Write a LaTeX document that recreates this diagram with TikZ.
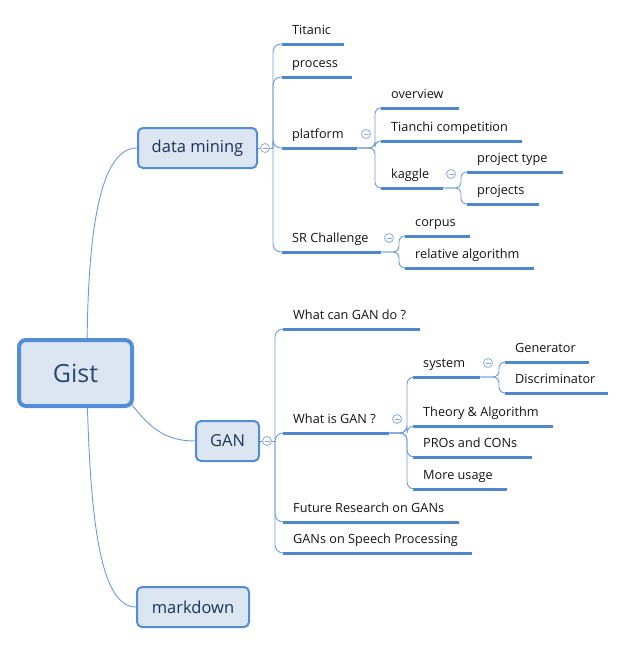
\documentclass[tikz,border=0pt]{standalone}
\usepackage{fontspec}
\setmainfont{Open Sans}
\usetikzlibrary{backgrounds}
\definecolor{boxborder}{RGB}{84,141,212}
\definecolor{boxfill}{RGB}{220,230,242}
\definecolor{uline}{RGB}{79,134,204}
\definecolor{connc}{RGB}{110,155,215}
\definecolor{circc}{RGB}{140,170,220}
\definecolor{roottext}{RGB}{44,70,115}
\definecolor{headtext}{RGB}{30,50,88}
\definecolor{leaftext}{RGB}{20,20,20}
\newcommand\mmleaf[5]{\node[leafnode] (#1) at (#2,#3) {\makebox[\dimexpr#4pt-#2pt-20pt\relax][l]{#5}};}
\begin{document}
\begin{tikzpicture}[x=1pt,y=-1pt,
  rootnode/.style={draw=boxborder,fill=boxfill,line width=4pt,rounded corners=7pt,
    minimum width=113pt,minimum height=66pt,inner sep=0pt,text=roottext,
    font=\fontsize{25}{30}\selectfont},
  headnode/.style={draw=boxborder,fill=boxfill,line width=2pt,rounded corners=5pt,
    minimum height=40pt,inner sep=0pt,text=headtext,
    font=\fontsize{16.5}{20}\selectfont},
  leafnode/.style={anchor=south west,inner xsep=10pt,inner ysep=0pt,
    text height=11pt,text depth=9pt,text=leaftext,
    font=\fontsize{12.7}{15}\selectfont},
  ulinestyle/.style={draw=uline,line width=3pt},
  conn/.style={draw=connc,line width=0.9pt},
  collapse/.style={circle,draw=circc,fill=white,line width=0.8pt,minimum size=9pt,inner sep=0pt,
    path picture={\draw[circc,line width=0.8pt]
      ([xshift=2pt]path picture bounding box.west) -- ([xshift=-2pt]path picture bounding box.east);}}
]
\useasboundingbox (0,0) rectangle (626,645);

% main nodes
\node[rootnode] (gist) at (75.5,373) {Gist};
\node[headnode,minimum width=119pt] (dm) at (197.5,148) {data mining};
\node[headnode,minimum width=63pt] (gan) at (227.5,441) {GAN};
\node[headnode,minimum width=112pt] (md) at (193,607) {markdown};

% leaves
\mmleaf{titanic}{282}{44}{344}{Titanic}
\mmleaf{process}{282}{77}{352}{process}
\mmleaf{platform}{282}{148}{357}{platform}
\mmleaf{sr}{282}{252}{381}{SR Challenge}
\mmleaf{overview}{381}{108}{459}{overview}
\mmleaf{tianchi}{381}{141}{522}{Tianchi competition}
\mmleaf{kaggle}{381}{188}{443}{kaggle}
\mmleaf{ptype}{467}{172}{563}{project type}
\mmleaf{projects}{467}{204}{539}{projects}
\mmleaf{corpus}{405}{236}{470}{corpus}
\mmleaf{relalg}{405}{268}{534}{relative algorithm}
\mmleaf{whatcan}{283}{329}{420}{What can GAN do ?}
\mmleaf{whatis}{283}{433}{389}{What is GAN ?}
\mmleaf{future}{283}{522}{459}{Future Research on GANs}
\mmleaf{speech}{283}{553}{472}{GANs on Speech Processing}
\mmleaf{system}{413}{377}{480}{system}
\mmleaf{theory}{413}{426}{553}{Theory \& Algorithm}
\mmleaf{pros}{413}{457}{532}{PROs and CONs}
\mmleaf{more}{413}{489}{507}{More usage}
\mmleaf{gen}{505}{362}{589}{Generator}
\mmleaf{disc}{505}{393}{608}{Discriminator}

\foreach \n in {titanic,process,platform,sr,overview,tianchi,kaggle,ptype,projects,
  corpus,relalg,whatcan,whatis,future,speech,system,theory,pros,more,gen,disc}
  \draw[ulinestyle] (\n.south west) -- (\n.south east);

% junction coordinates
\coordinate (jdm) at (273,148);
\coordinate (jgan) at (275,441);
\coordinate (jpl) at (375,148);
\coordinate (jsr) at (399,252);
\coordinate (jkg) at (461,188);
\coordinate (jwi) at (407,433);
\coordinate (jsy) at (499,377);

\begin{scope}[on background layer]
  % root connectors
  \draw[conn] (87,360) .. controls (87,230) and (100,148) .. (dm.west);
  \draw[conn] (125,395) .. controls (148,428) and (165,441) .. (gan.west);
  \draw[conn] (87,390) .. controls (90,520) and (100,607) .. (md.west);
  % data mining
  \draw[conn] (dm.east) -- (jdm);
  \foreach \c in {titanic,process,platform,sr}
    \draw[conn,rounded corners=8pt] (jdm) |- (\c.south west);
  % GAN
  \draw[conn] (gan.east) -- (jgan);
  \foreach \c in {whatcan,whatis,future,speech}
    \draw[conn,rounded corners=8pt] (jgan) |- (\c.south west);
\end{scope}
% sub groups
\foreach \c in {overview,tianchi,kaggle}
  \draw[conn,rounded corners=6pt] (platform.south east) -- (jpl) |- (\c.south west);
\foreach \c in {corpus,relalg}
  \draw[conn,rounded corners=6pt] (sr.south east) -- (jsr) |- (\c.south west);
\foreach \c in {ptype,projects}
  \draw[conn,rounded corners=5pt] (kaggle.south east) -- (jkg) |- (\c.south west);
\foreach \c in {system,theory,pros,more}
  \draw[conn,rounded corners=7pt] (whatis.south east) -- (jwi) |- (\c.south west);
\foreach \c in {gen,disc}
  \draw[conn,rounded corners=6pt] (system.south east) -- (jsy) |- (\c.south west);

% collapse markers
\node[collapse] (cdm) at (265,148) {};
\node[collapse] (cgan) at (267,441) {};
\node[collapse] (cpl) at (366,134) {};
\node[collapse] (ckg) at (451,174) {};
\node[collapse] (csr) at (389,238) {};
\node[collapse] (cwi) at (397,419) {};
\node[collapse] (csy) at (488,363) {};
\end{tikzpicture}
\end{document}
